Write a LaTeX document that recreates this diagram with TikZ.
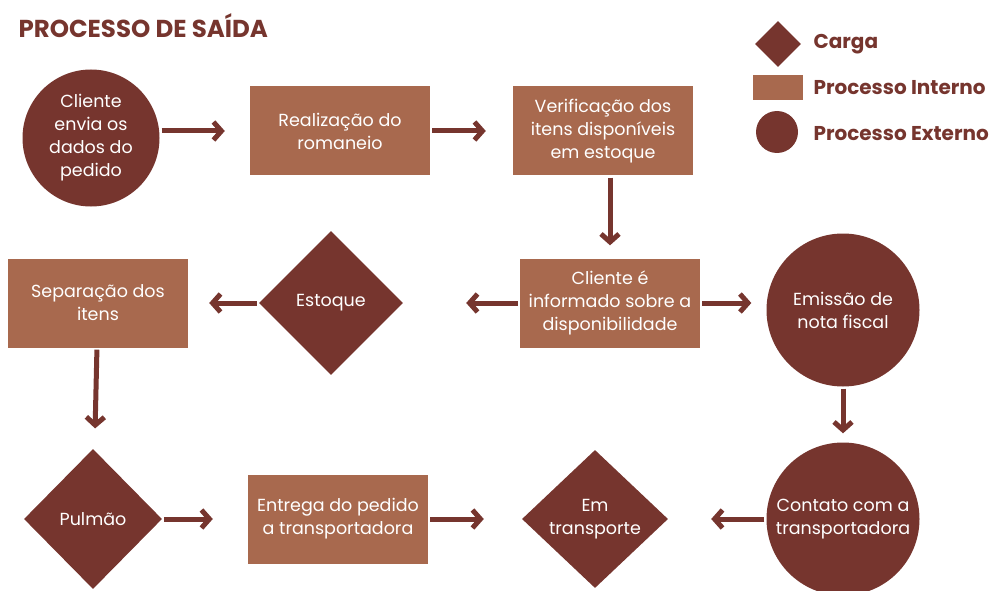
\documentclass[tikz,border=0pt]{standalone}
\usepackage{fontspec}
\setmainfont{Poppins}
\usetikzlibrary{shapes.geometric,arrows.meta,positioning}
\definecolor{darkbrown}{HTML}{76352E}
\definecolor{lightbrown}{HTML}{A8694E}

\begin{document}
\begin{tikzpicture}[%
    x=1pt, y=-1pt,              % Work in pixels of the sketch, y downwards
    >={Straight Barb[length=8pt,width=18pt]},
    node distance=60pt,
    ]
% -------------------------------------------------
% Box styles
\tikzset{
  base/.style={on grid, align=center, inner sep=0pt, text=white,
    font=\fontsize{17.5}{23}\selectfont},
  proc/.style={base, rectangle, fill=lightbrown, minimum width=180pt,
    minimum height=89pt},
  extproc/.style={base, circle, fill=darkbrown, minimum size=153pt},
  carga/.style={base, diamond, fill=darkbrown, minimum width=144pt,
    minimum height=144pt},
  % Connector style
  arr/.style={->, draw=darkbrown, line width=5pt, shorten <=2pt},
  lgd/.style={anchor=west, text=darkbrown, font=\fontsize{20}{23}\bfseries}
}
\useasboundingbox (0,0) rectangle (999,591);
% -------------------------------------------------
% Title and legend
\node [anchor=west, text=darkbrown, font=\fontsize{24.5}{28}\bfseries]
  (title) at (15,26) {PROCESSO DE SAÍDA};
\node [diamond, fill=darkbrown, minimum size=46pt, inner sep=0pt]
  (keycarga) at (778,44) {};
\node [rectangle, fill=lightbrown, minimum width=50pt, minimum height=25pt]
  (keyint) at (778,88) {};
\node [circle, fill=darkbrown, minimum size=42pt] (keyext) at (777,132) {};
\node [lgd] at (810,44) {Carga};
\node [lgd] at (810,88) {Processo Interno};
\node [lgd] at (810,134) {Processo Externo};
% -------------------------------------------------
% First row
\node [extproc, minimum size=137pt] (envio) at (91,138)
  {Cliente\\envia os\\dados do\\pedido};
\node [proc, right=249pt of envio, yshift=7pt] (romaneio)
  {Realização do\\romaneio};
\node [proc, right=263pt of romaneio] (verif)
  {Verificação dos\\itens disponíveis\\em estoque};
% Second row
\node [proc, below=172pt of verif, xshift=7pt] (informa)
  {Cliente é\\informado sobre a\\disponibilidade};
\node [carga, left=279pt of informa] (estoque) {Estoque};
\node [proc, left=233pt of estoque] (separa) {Separação dos\\itens};
\node [extproc, right=233pt of informa, yshift=-7pt] (nota)
  {Emissão de\\nota fiscal};
% Third row
\node [extproc, below=209pt of nota] (contato)
  {Contato com a\\transportadora};
\node [carga, left=248pt of contato, minimum width=146pt,
  minimum height=138pt] (transp) {Em\\transporte};
\node [proc, left=257pt of transp] (entrega)
  {Entrega do pedido\\a transportadora};
\node [carga, left=245pt of entrega, minimum width=138pt,
  minimum height=140pt] (pulmao) {Pulmão};
% -------------------------------------------------
% Connectors
\draw [arr, shorten >=25pt] (envio.east |- romaneio) -- (romaneio);
\draw [arr, shorten >=27pt] (romaneio) -- (verif);
\draw [arr, shorten >=13pt] (verif.south -| informa) -- (informa);
\draw [arr, shorten >=63pt] (informa) -- (estoque);
\draw [arr, shorten >=15pt] (informa) -- (nota.west |- informa);
\draw [arr, shorten >=21pt] (estoque) -- (separa);
\draw [arr, shorten >=22pt] (separa) -- (pulmao);
\draw [arr, shorten >=9pt] (nota) -- (contato);
\draw [arr, shorten >=43pt] (contato) -- (transp);
\draw [arr, shorten >=35pt] (pulmao) -- (entrega);
\draw [arr, shorten >=38pt] (entrega) -- (transp);
% -------------------------------------------------
\end{tikzpicture}
\end{document}
